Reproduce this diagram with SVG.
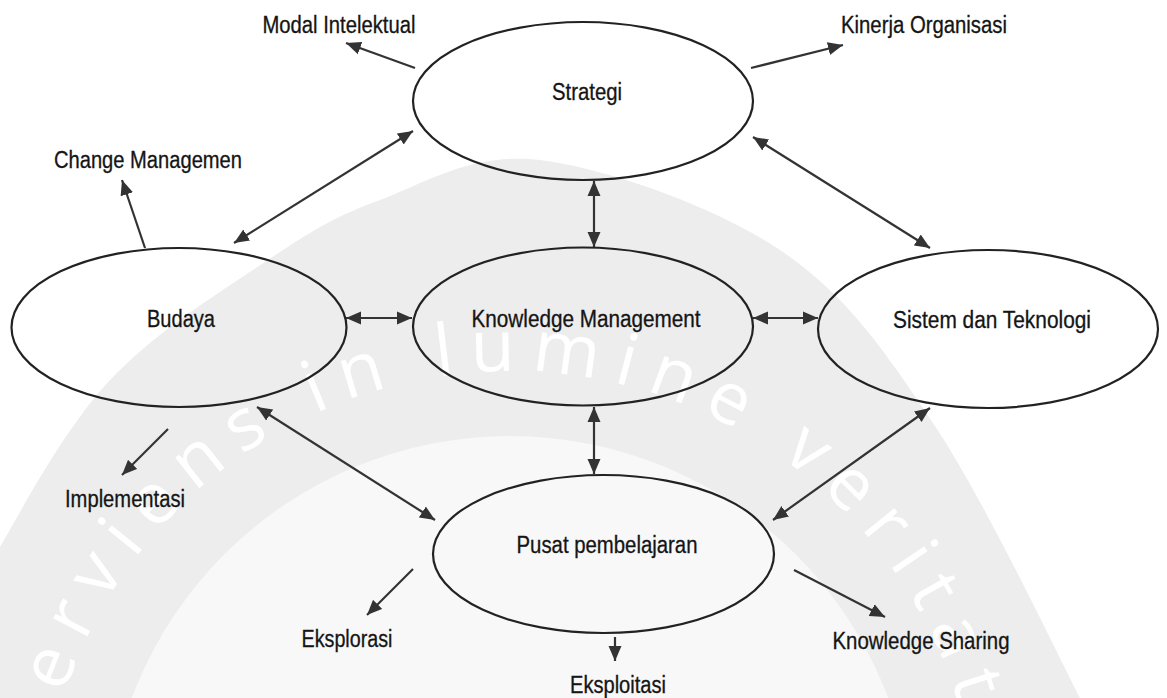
<svg xmlns="http://www.w3.org/2000/svg" xmlns:xlink="http://www.w3.org/1999/xlink" width="1167" height="698" viewBox="0 0 1167 698">
<style>
.node{fill:none;stroke:#222;stroke-width:2.2}
.lbl{font-family:"Liberation Sans",Arial,sans-serif;font-size:23px;fill:#151515;stroke:#151515;stroke-width:0.3;text-anchor:middle}
.con line{stroke:#333;stroke-width:2.2}
.dbl{marker-start:url(#ah);marker-end:url(#ah)}
.one{marker-end:url(#ah)}
.wm{font-family:"Open Sans","Noto Sans",sans-serif;font-size:72px;fill:#ffffff;letter-spacing:15.7px}
</style>
<defs>
<marker id="ah" markerUnits="userSpaceOnUse" markerWidth="15" markerHeight="14" viewBox="0 0 15 14" refX="15" refY="7" orient="auto-start-reverse">
<path d="M0,0.5 L15,7 L0,13.5 Z" fill="#333"/>
</marker>
<path id="wmarc" d="M48.1,921.4 A469,469 0 1 1 971.9,921.4"/>
</defs>
<rect width="1167" height="698" fill="#ffffff"/>
<g id="watermark">
<path d="M-10,560 L0,547 C25,503.7 65.3,427.8 110,380 C154.7,332.2 223,290 268,260 C313,230 334.7,216.7 380,200 C425.3,183.3 473.3,151.7 540,160 C606.7,168.3 714.5,206.2 780,250 C845.5,293.8 883,348.3 933,423 C983,497.7 1048.8,636.8 1080,698 L1100,760 L-10,760 Z" fill="#ededed"/>
<circle cx="510" cy="840" r="404" fill="#f8f8f8"/>
<text class="wm"><textPath xlink:href="#wmarc" href="#wmarc" startOffset="180">serviens in lumine veritatis</textPath></text>
</g>
<g id="connectors" class="con">
<line class="dbl" x1="594" y1="181" x2="594" y2="247"/>
<line class="dbl" x1="594" y1="407" x2="594" y2="474"/>
<line class="dbl" x1="346" y1="318" x2="412" y2="318"/>
<line class="dbl" x1="753" y1="318" x2="818" y2="318"/>
<line class="dbl" x1="413" y1="131" x2="234" y2="243"/>
<line class="dbl" x1="753" y1="137" x2="930" y2="248"/>
<line class="dbl" x1="257" y1="407" x2="435" y2="520"/>
<line class="dbl" x1="930" y1="408" x2="773" y2="520"/>
<line class="one" x1="415" y1="68" x2="346" y2="43"/>
<line class="one" x1="751" y1="68" x2="843" y2="45"/>
<line class="one" x1="145" y1="248" x2="122" y2="180"/>
<line class="one" x1="168" y1="429" x2="122" y2="475"/>
<line class="one" x1="413" y1="569" x2="367" y2="615"/>
<line class="one" x1="615" y1="637" x2="615" y2="661"/>
<line class="one" x1="794" y1="570" x2="885" y2="617"/>
</g>
<g id="strategi"><ellipse class="node" cx="583" cy="101" rx="170" ry="79"/><text class="lbl" x="587" y="100" textLength="70" lengthAdjust="spacingAndGlyphs">Strategi</text></g>
<g id="budaya"><ellipse class="node" cx="179" cy="327.5" rx="167.5" ry="79.5"/><text class="lbl" x="181" y="327" textLength="68" lengthAdjust="spacingAndGlyphs">Budaya</text></g>
<g id="knowledge-management"><ellipse class="node" cx="583" cy="326.5" rx="170" ry="79"/><text class="lbl" x="586" y="327" textLength="229" lengthAdjust="spacingAndGlyphs">Knowledge Management</text></g>
<g id="sistem-teknologi"><ellipse class="node" cx="988" cy="329" rx="170" ry="79"/><text class="lbl" x="992" y="328" textLength="198" lengthAdjust="spacingAndGlyphs">Sistem dan Teknologi</text></g>
<g id="pusat-pembelajaran"><ellipse class="node" cx="603.5" cy="554" rx="170.5" ry="79"/><text class="lbl" x="607" y="553" textLength="181" lengthAdjust="spacingAndGlyphs">Pusat pembelajaran</text></g>
<g id="modal-intelektual"><text class="lbl" x="339" y="33" textLength="153" lengthAdjust="spacingAndGlyphs">Modal Intelektual</text></g>
<g id="kinerja-organisasi"><text class="lbl" x="924" y="33" textLength="166" lengthAdjust="spacingAndGlyphs">Kinerja Organisasi</text></g>
<g id="change-managemen"><text class="lbl" x="148" y="168" textLength="188" lengthAdjust="spacingAndGlyphs">Change Managemen</text></g>
<g id="implementasi"><text class="lbl" x="125" y="507" textLength="120" lengthAdjust="spacingAndGlyphs">Implementasi</text></g>
<g id="eksplorasi"><text class="lbl" x="347" y="647" textLength="91" lengthAdjust="spacingAndGlyphs">Eksplorasi</text></g>
<g id="eksploitasi"><text class="lbl" x="618" y="693" textLength="96" lengthAdjust="spacingAndGlyphs">Eksploitasi</text></g>
<g id="knowledge-sharing"><text class="lbl" x="921" y="649" textLength="177" lengthAdjust="spacingAndGlyphs">Knowledge Sharing</text></g>
</svg>
